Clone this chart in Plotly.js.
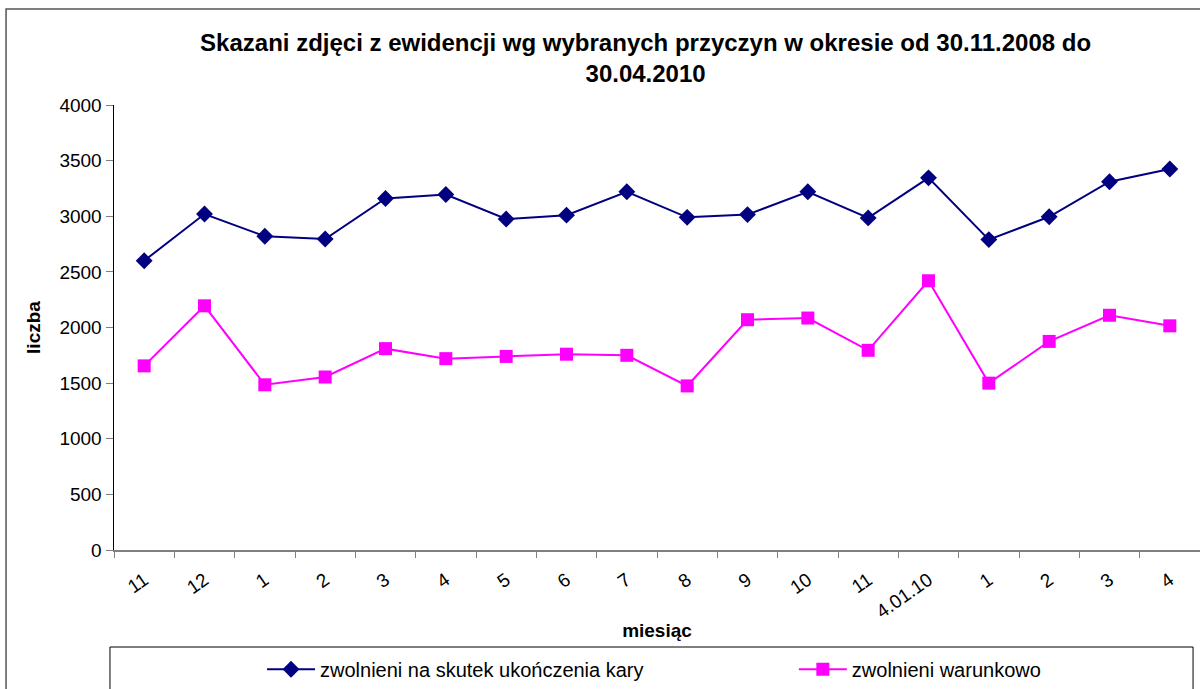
<!DOCTYPE html>
<html>
<head>
<meta charset="utf-8">
<script src="https://cdn.plot.ly/plotly-3.0.1.min.js"></script>
<style>
html,body{margin:0;padding:0;background:#fff;overflow:hidden;}
#chart{width:1200px;height:689px;}
</style>
</head>
<body>
<div id="chart"></div>
<script>
const monthLabels = ["11","12","1","2","3","4","5","6","7","8","9","10","11","4.01.10","1","2","3","4"];
const seriesNames = ["zwolnieni na skutek ukończenia kary","zwolnieni warunkowo"];
const endOfSentence = [2600,3020,2820,2795,3160,3195,2975,3010,3220,2990,3015,3220,2985,3345,2790,2995,3310,3425];
const conditional = [1655,2195,1485,1555,1810,1720,1740,1760,1750,1475,2070,2085,1795,2420,1500,1875,2110,2015];

const idx = monthLabels.map((_, i) => i);
const F = "Arial, 'Liberation Sans', sans-serif";

const traces = [
  {x: idx, y: endOfSentence, name: seriesNames[0], type: 'scatter', mode: 'lines+markers', legend: 'legend',
   line: {color: '#000080', width: 2}, marker: {symbol: 'diamond', size: 13, color: '#000080'}},
  {x: idx, y: conditional, name: seriesNames[1], type: 'scatter', mode: 'lines+markers', legend: 'legend2',
   line: {color: '#FF00FF', width: 2}, marker: {symbol: 'square', size: 13, color: '#FF00FF'}}
];

const legendCommon = {orientation: 'h', xanchor: 'left', y: -0.224, yanchor: 'top', itemwidth: 48,
  bgcolor: 'rgba(0,0,0,0)', borderwidth: 0, font: {family: F, size: 20, color: '#000'}};

const layout = {
  width: 1200, height: 689,
  margin: {l: 114, r: 0, t: 105, b: 139},
  paper_bgcolor: '#fff', plot_bgcolor: '#fff',
  font: {family: F, size: 19, color: '#000'},
  showlegend: true,
  title: {text: 'Skazani zdjęci z ewidencji wg wybranych przyczyn w okresie od 30.11.2008 do<br>30.04.2010',
          font: {family: F, size: 24, color: '#000', weight: 'bold'},
          x: 0.538, xref: 'container', xanchor: 'center', y: 0.926, yanchor: 'middle'},
  xaxis: {type: 'category', tickmode: 'array', tickvals: idx, ticktext: monthLabels,
          tickson: 'boundaries', ticks: 'outside', ticklen: 6, tickcolor: '#808080',
          tickangle: -35, tickfont: {family: F, size: 19}, ticklabelstandoff: 10,
          showline: true, linecolor: '#808080', linewidth: 1.5, showgrid: false, zeroline: false,
          range: [-0.5, 17.5], fixedrange: true, automargin: false,
          title: {text: 'miesiąc', font: {family: F, size: 19, weight: 'bold'}, standoff: 2}},
  yaxis: {range: [0, 4000], tickmode: 'array', tickvals: [0,500,1000,1500,2000,2500,3000,3500,4000],
          ticks: 'outside', ticklen: 7, tickcolor: '#808080', tickfont: {family: F, size: 19},
          showline: true, linecolor: '#000', linewidth: 1.5, showgrid: false, zeroline: false,
          fixedrange: true, automargin: false,
          title: {text: 'liczba', font: {family: F, size: 19, weight: 'bold'}, standoff: 14}},
  legend: Object.assign({}, legendCommon, {x: 0.1363}),
  legend2: Object.assign({}, legendCommon, {x: 0.626}),
  shapes: [
    {type: 'rect', xref: 'paper', yref: 'paper', x0: -0.0037, x1: 0.9936, y0: -0.218, y1: -1,
     line: {color: '#000', width: 1}, fillcolor: 'rgba(0,0,0,0)', layer: 'below'},
    {type: 'rect', xref: 'paper', yref: 'paper', x0: -0.0994, x1: 1.2, y0: -1, y1: 1.2157,
     line: {color: '#555', width: 1.5}, fillcolor: 'rgba(0,0,0,0)', layer: 'below'}
  ]
};

Plotly.newPlot('chart', traces, layout, {displayModeBar: false, staticPlot: true});
</script>
</body>
</html>
